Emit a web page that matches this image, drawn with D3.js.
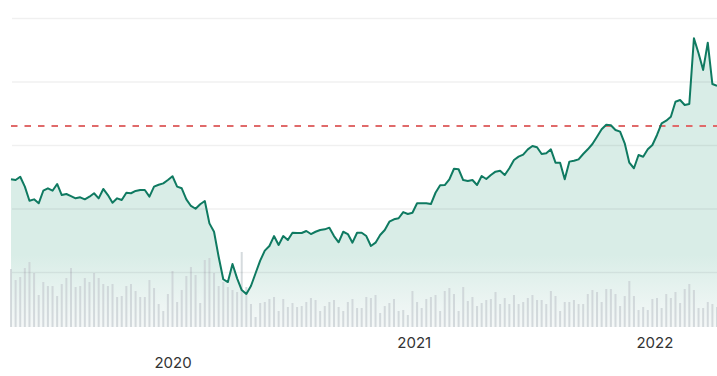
<!DOCTYPE html>
<html lang="en">
<head>
<meta charset="utf-8">
<title>Price and volume</title>
<script src="https://d3js.org/d3.v7.min.js"></script>
<style>
  body { margin: 0; background: #fff; }
  svg { display: block; }
  .years text { font-family: Inter, "Liberation Sans", sans-serif; font-size: 15px; fill: #333; }
</style>
</head>
<body>
<svg width="717" height="376"></svg>
<script>
// weekly closes, first week starts here
const startDate = new Date(2019, 4, 1);
const yearLabels = ["2020", "2021", "2022"];
const gridValues = [50, 100, 150, 200, 250];
const refLevel = 165;

const prices = [
  123.0, 122.4, 125.0, 117.2, 106.1, 107.2, 104.1, 114.0, 115.9, 114.0, 119.3, 110.6, 111.4,
  109.8, 108.0, 108.8, 107.2, 109.3, 112.0, 108.0, 115.4, 110.6, 104.6, 108.0, 106.7, 112.4,
  112.0, 113.8, 114.6, 114.6, 109.3, 117.2, 118.7, 119.8, 122.4, 125.4, 117.2, 115.9, 107.2,
  102.0, 99.8, 103.3, 105.9, 88.3, 81.7, 62.0, 44.3, 42.1, 56.3, 45.0, 35.8,
  32.7, 39.0, 49.0, 58.9, 66.8, 70.5, 78.3, 71.3, 78.3, 75.2, 80.9, 80.7, 80.7, 82.3, 79.9,
  81.7, 83.1, 83.6, 84.9, 78.3, 73.4, 81.7, 79.9, 73.1, 80.9, 80.9, 78.3, 70.5, 73.1, 79.1,
  83.1, 89.6, 91.5, 92.3, 97.2, 95.7, 96.7, 104.1, 104.1, 104.1, 103.5, 112.4, 118.3, 118.5,
  123.0, 131.3, 130.9, 122.4, 121.7, 122.4,
  118.5, 125.6, 123.2, 126.4, 129.0, 129.8, 126.4, 131.7, 138.2, 140.8, 142.4, 146.6, 149.2,
  148.2, 142.9, 143.5, 146.6, 136.1, 136.1, 123.0, 136.9, 137.6, 138.7, 142.9, 146.6, 150.8,
  156.5, 162.4, 166.0, 165.5, 161.8, 160.5, 151.3, 136.1, 131.7, 142.1, 140.8, 146.6, 150.0,
  157.9, 167.1, 169.1, 172.3, 184.1, 185.4, 181.5, 182.3, 234.0, 222.2, 209.1, 230.6, 198.0, 196.5
];

const volumes = [
  58, 47, 50, 59, 65, 54, 32, 45, 41, 41, 31, 43, 49, 59, 40, 41, 49, 45, 54, 49, 43, 41, 43, 30, 31, 41,
  43, 36, 30, 30, 47, 39, 23, 16, 33, 56, 25, 37, 51, 60, 52, 24, 67, 69, 54, 41, 45, 40, 37, 35, 75,
  40, 23, 10, 24, 25, 28, 30, 16, 28, 20, 24, 20, 21, 25, 29, 27, 16, 21, 25, 27, 20, 16, 25, 28, 19,
  19, 30, 29, 32, 14, 21, 24, 28, 16, 17, 12, 36, 25, 19, 28, 30, 32, 16, 36, 39, 33, 16, 40, 26, 30,
  21, 24, 27, 28, 35, 23, 29, 23, 32, 23, 25, 29, 32, 27, 27, 23, 36, 31, 16, 25, 25, 27, 23, 23, 33, 37,
  35, 25, 38, 38, 33, 21, 31, 46, 31, 17, 20, 17, 28, 29, 19, 33, 29, 35, 24, 38, 43, 37, 19, 19, 25, 23,
  20
];

const bottom = 327;
const svg = d3.select("svg");

const dates = prices.map((p, i) => d3.timeDay.offset(startDate, 7 * i));
const data = prices.map((p, i) => ({date: dates[i], price: p, volume: volumes[i]}));

const x = d3.scaleTime().domain(d3.extent(dates)).range([11, 717]);
const y = d3.scaleLinear().domain([0, 250]).range([335.5, 18]);
const yVol = d3.scaleLinear().domain([0, 100]).range([bottom, bottom - 100]);

// area fill fades out towards the volume bars
const grad = svg.append("defs").append("linearGradient")
  .attr("id", "areaFill")
  .attr("gradientUnits", "userSpaceOnUse")
  .attr("x1", 0).attr("x2", 0)
  .attr("y1", 255).attr("y2", bottom);
grad.append("stop").attr("offset", 0).attr("stop-color", "#d9ede7");
grad.append("stop").attr("offset", 1).attr("stop-color", "#f5f8f8");

const area = d3.area()
  .x(d => x(d.date))
  .y0(bottom)
  .y1(d => y(d.price));

svg.append("path")
  .datum(data)
  .attr("d", area)
  .attr("fill", "url(#areaFill)");

// volume bars
svg.append("g")
  .selectAll("rect")
  .data(data)
  .join("rect")
  .attr("x", d => x(d.date) - 1)
  .attr("width", 2)
  .attr("y", d => yVol(d.volume))
  .attr("height", d => bottom - yVol(d.volume))
  .attr("fill", "#c8cfd3")
  .attr("opacity", 0.75);

// gridlines
const grid = svg.append("g")
  .attr("transform", "translate(12,0)")
  .call(d3.axisRight(y).tickValues(gridValues).tickSize(705).tickFormat(""));
grid.select(".domain").remove();
grid.selectAll("line")
  .attr("stroke", "rgba(0,0,0,0.06)")
  .attr("stroke-width", 1.5);

// reference level
svg.append("line")
  .attr("x1", 11).attr("x2", 717)
  .attr("y1", y(refLevel)).attr("y2", y(refLevel))
  .attr("stroke", "#e06a6a")
  .attr("stroke-width", 2)
  .attr("stroke-dasharray", "6.5,7");

const line = d3.line()
  .x(d => x(d.date))
  .y(d => y(d.price));

svg.append("path")
  .datum(data)
  .attr("d", line)
  .attr("fill", "none")
  .attr("stroke", "#0f7a61")
  .attr("stroke-width", 2)
  .attr("stroke-linejoin", "round");

// year labels
const tickDates = yearLabels.map(s => new Date(+s, 0, 1));
const years = svg.append("g")
  .attr("class", "years")
  .attr("transform", `translate(0,${bottom})`)
  .call(d3.axisBottom(x).tickValues(tickDates).tickFormat(d3.timeFormat("%Y")).tickSize(0));
years.select(".domain").remove();
years.selectAll("text")
  .attr("y", (d, i) => i === 0 ? 41 : 21)
  .attr("dy", 0);
</script>
</body>
</html>
